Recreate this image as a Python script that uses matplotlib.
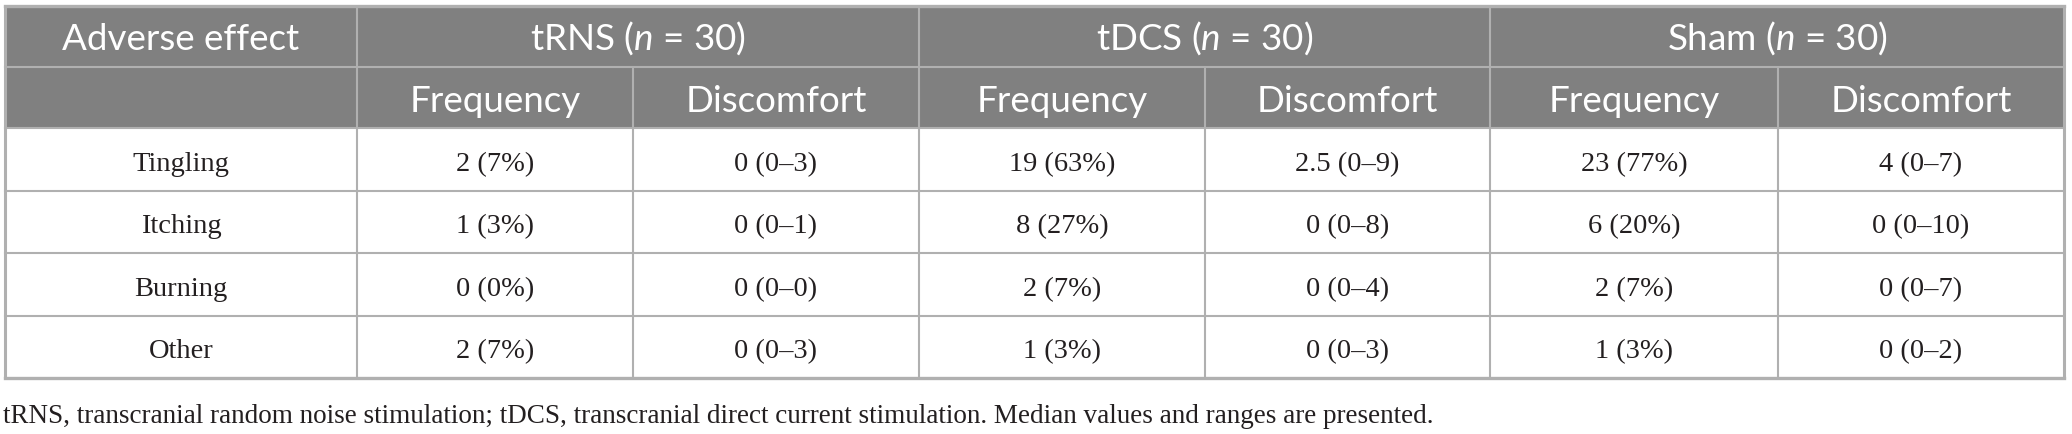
import matplotlib.pyplot as plt
from matplotlib.patches import Rectangle

# table contents
effects = ["Tingling", "Itching", "Burning", "Other"]
groups = ["tRNS", "tDCS", "Sham"]
group_n = [30, 30, 30]
sub_headers = ["Frequency", "Discomfort"]

# counts of participants reporting each effect
trns_count = [2, 1, 0, 2]
tdcs_count = [19, 8, 2, 1]
sham_count = [23, 6, 2, 1]

# discomfort: median and range
trns_median = [0, 0, 0, 0]
trns_range = [(0, 3), (0, 1), (0, 0), (0, 3)]
tdcs_median = [2.5, 0, 0, 0]
tdcs_range = [(0, 9), (0, 8), (0, 4), (0, 3)]
sham_median = [4, 0, 0, 0]
sham_range = [(0, 7), (0, 10), (0, 7), (0, 2)]

footnote = ("tRNS, transcranial random noise stimulation; tDCS, transcranial direct "
            "current stimulation. Median values and ranges are presented.")

counts = [trns_count, tdcs_count, sham_count]
medians = [trns_median, tdcs_median, sham_median]
ranges = [trns_range, tdcs_range, sham_range]

plt.rcParams['mathtext.fontset'] = 'custom'
plt.rcParams['mathtext.rm'] = 'Lato'
plt.rcParams['mathtext.it'] = 'Lato:italic'

W, H = 2072, 435
fig = plt.figure(figsize=(W / 100, H / 100), dpi=100)
ax = fig.add_axes([0, 0, 1, 1])
ax.set_xlim(0, W)
ax.set_ylim(H, 0)
ax.axis('off')

# layout in pixels
col_x = [5, 357, 633, 919, 1205, 1490, 1778, 2064]
row_y = [7, 68, 129, 191.5, 254, 316.5, 379]

head_bg = '#808080'
grid = '#b0b0b0'
text_col = '#231f20'
lw = 1.5

ax.add_patch(Rectangle((col_x[0], row_y[0]), col_x[-1] - col_x[0], row_y[2] - row_y[0],
                       facecolor=head_bg, edgecolor='none'))

# horizontal lines
for i, y in enumerate(row_y):
    w = 2.4 if i in (0, len(row_y) - 1) else lw
    ax.plot([col_x[0], col_x[-1]], [y, y], color=grid, lw=w, solid_capstyle='projecting')
# vertical lines
for j, x in enumerate(col_x):
    top = row_y[1] if j in (2, 4, 6) else row_y[0]
    w = 2.2 if j in (0, len(col_x) - 1) else lw
    ax.plot([x, x], [top, row_y[-1]], color=grid, lw=w, solid_capstyle='butt')

head_font = dict(family='Lato', fontsize=26.5, color='white', ha='center', va='baseline')
body_font = dict(family='Liberation Serif', fontsize=20.5, color=text_col, ha='center',
                 va='baseline')

def mid(a, b):
    return (a + b) / 2

ax.text(mid(col_x[0], col_x[1]), mid(row_y[0], row_y[1]) + 12.5, "Adverse effect", **head_font)
for g, name in enumerate(groups):
    x0, x1 = col_x[1 + 2 * g], col_x[3 + 2 * g]
    ax.text(mid(x0, x1), mid(row_y[0], row_y[1]) + 12.5,
            f"{name} ($n$ = {group_n[g]})", **head_font)
    for k, sub in enumerate(sub_headers):
        ax.text(mid(col_x[1 + 2 * g + k], col_x[2 + 2 * g + k]), mid(row_y[1], row_y[2]) + 13,
                sub, **head_font)

for r, eff in enumerate(effects):
    yb = mid(row_y[2 + r], row_y[3 + r]) + 10.5
    ax.text(mid(col_x[0], col_x[1]), yb, eff, **body_font)
    for g in range(len(groups)):
        c = counts[g][r]
        pct = round(100 * c / group_n[g])
        lo, hi = ranges[g][r]
        ax.text(mid(col_x[1 + 2 * g], col_x[2 + 2 * g]), yb, f"{c} ({pct}%)", **body_font)
        ax.text(mid(col_x[2 + 2 * g], col_x[3 + 2 * g]), yb,
                f"{medians[g][r]:g} ({lo}\u2013{hi})", **body_font)

ax.text(3, 423, footnote, family='Liberation Serif', fontsize=19.5, color=text_col,
        ha='left', va='baseline')

fig.savefig('out.png', dpi=100)
